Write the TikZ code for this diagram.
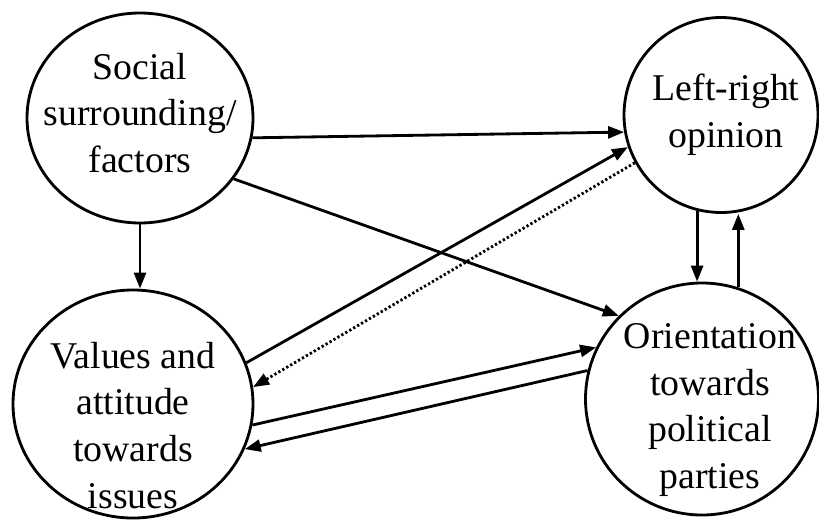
\documentclass[tikz,border=0pt]{standalone}
\usepackage{fontspec}
\setmainfont{Liberation Serif}
\usetikzlibrary{shapes.geometric, arrows.meta}
\tikzset{
  factor/.style={ellipse, draw=black, line width=1.6pt, inner sep=0pt},
  factortext/.style={align=center, inner sep=0pt,
    font=\fontsize{21.5}{26.7}\selectfont},
  arrow/.style={-{Triangle[length=0.32cm, width=0.24cm]}, line width=1.6pt},
  dotarrow/.style={arrow, dash pattern=on 1.3pt off 1.3pt}
}
\begin{document}
\begin{tikzpicture}
  \useasboundingbox (0,0) rectangle (16.38,-10.42);

  % Circles
  \node[factor, minimum width=4.52cm, minimum height=4.2cm] (social) at (2.8,-2.36) {};
  \node[factor, minimum width=3.88cm, minimum height=3.9cm] (lr) at (14.42,-2.3) {};
  \node[factor, minimum width=4.8cm, minimum height=4.56cm] (values) at (2.66,-8.08) {};
  \node[factor, minimum width=4.66cm, minimum height=4.64cm] (orient) at (14.04,-7.98) {};

  % Texts
  \node[factortext] (socialtext) at (2.8,-2.26) {Social\\surrounding/\\factors};
  \node[factortext] (lrtext) at (14.52,-2.3) {Left-right\\opinion};
  \node[factortext] (valuestext) at (2.66,-8.51) {Values and\\attitude\\towards\\issues};
  \node[factortext] (orienttext) at (14.2,-8.2) {Orientation\\towards\\political\\parties};

  % Arrows
  \draw[arrow] (social.-10.5) -- (lr.-170.7);
  \draw[arrow] (social.-33) -- (orient.135);
  \draw[arrow] (social.south) -- (social.south |- values.north);
  \draw[arrow] (values.20.6) -- (lr.-161);
  \draw[dotarrow] (lr.-151) -- (values.8.5);
  \draw[arrow] (values.-10.4) -- (orient.154.5);
  \draw[arrow] (orient.166.4) -- (values.-22);
  \draw[arrow] (lr.-104) -- (lr.-104 |- orient.north);
  \draw[arrow] (orient.72) -- (orient.72 |- lr.south);
\end{tikzpicture}
\end{document}
